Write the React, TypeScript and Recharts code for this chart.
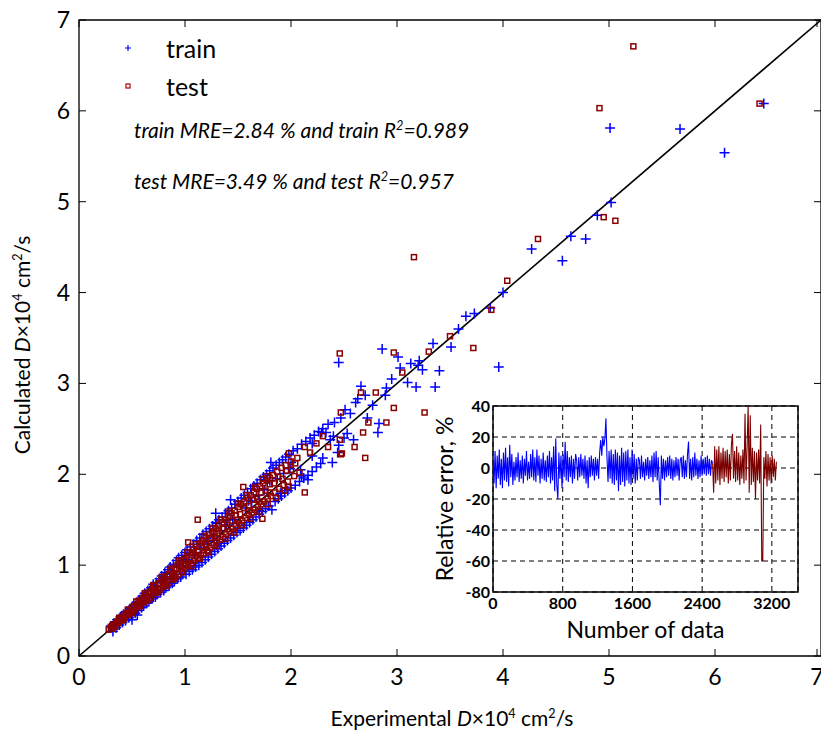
import React from 'react';
import {
  ScatterChart,
  Scatter,
  LineChart,
  Line,
  XAxis,
  YAxis,
  CartesianGrid,
  ReferenceLine,
  ReferenceArea,
  Legend
} from 'recharts';

const FONT = 'Lato, "Open Sans", sans-serif';

// plot box of the main chart, in page pixels
const PLOT = { left: 79, right: 821, top: 20, bottom: 656 };

const axisTicks = [0, 1, 2, 3, 4, 5, 6, 7];

const trainPoints: [number, number][] = [
  [0.3, 0.33], [0.32, 0.27], [0.33, 0.36], [0.35, 0.31], [0.36, 0.4], [0.38, 0.34], [0.39, 0.43], [0.41, 0.37],
  [0.42, 0.46], [0.44, 0.39], [0.45, 0.49], [0.47, 0.42], [0.48, 0.52], [0.5, 0.45], [0.51, 0.55], [0.53, 0.47],
  [0.54, 0.59], [0.56, 0.5], [0.57, 0.62], [0.59, 0.53], [0.6, 0.65], [0.55, 0.45], [0.5, 0.4],
  [0.61, 0.55], [0.62, 0.69], [0.64, 0.58], [0.65, 0.72], [0.66, 0.6], [0.68, 0.75], [0.69, 0.63], [0.7, 0.79],
  [0.72, 0.65], [0.73, 0.81], [0.74, 0.68], [0.76, 0.85], [0.77, 0.7], [0.78, 0.88], [0.8, 0.72], [0.81, 0.92],
  [0.82, 0.75], [0.84, 0.95], [0.85, 0.77], [0.86, 0.98], [0.88, 0.8], [0.89, 1.01], [0.9, 0.82], [0.92, 1.05],
  [0.93, 0.85], [0.94, 1.08], [0.96, 0.87], [0.97, 1.11], [0.98, 0.9], [1.0, 1.14],
  [0.63, 0.66], [0.71, 0.73], [0.79, 0.83], [0.87, 0.9], [0.95, 0.99],
  [1.01, 0.9], [1.02, 1.17], [1.04, 0.93], [1.05, 1.2], [1.07, 0.95], [1.08, 1.23], [1.1, 0.98], [1.11, 1.27],
  [1.13, 1.0], [1.14, 1.3], [1.16, 1.03], [1.17, 1.34], [1.19, 1.06], [1.2, 1.37], [1.22, 1.09], [1.23, 1.4],
  [1.25, 1.12], [1.26, 1.43], [1.28, 1.15], [1.29, 1.47], [1.31, 1.18], [1.32, 1.5], [1.34, 1.21], [1.35, 1.53],
  [1.37, 1.24], [1.38, 1.57], [1.4, 1.27], [1.41, 1.6], [1.43, 1.3], [1.44, 1.63], [1.46, 1.33], [1.47, 1.67],
  [1.49, 1.36], [1.5, 1.7], [1.03, 1.06], [1.09, 1.14], [1.15, 1.19], [1.21, 1.26], [1.27, 1.31], [1.33, 1.38],
  [1.39, 1.44], [1.45, 1.5], [1.29, 1.57], [1.43, 1.72], [1.3, 1.46],
  [1.52, 1.38], [1.53, 1.74], [1.55, 1.41], [1.56, 1.77], [1.58, 1.44], [1.59, 1.8], [1.61, 1.47], [1.62, 1.84],
  [1.64, 1.5], [1.65, 1.87], [1.67, 1.53], [1.68, 1.9], [1.7, 1.56], [1.71, 1.94], [1.73, 1.59], [1.74, 1.97],
  [1.76, 1.62], [1.77, 2.0], [1.79, 1.65], [1.8, 2.04], [1.82, 1.61], [1.83, 2.07], [1.85, 1.7], [1.86, 2.1],
  [1.88, 1.73], [1.89, 2.13], [1.91, 1.76], [1.92, 2.16], [1.94, 1.79], [1.95, 2.19], [1.97, 1.82], [1.98, 2.22],
  [2.0, 1.85], [1.57, 1.63], [1.63, 1.7], [1.69, 1.77], [1.75, 1.83], [1.81, 2.13], [1.87, 1.95], [1.93, 2.01],
  [1.99, 2.06],
  [0.4, 0.44], [0.5, 0.46], [0.6, 0.66], [0.7, 0.65], [0.8, 0.87], [0.9, 0.84], [1.0, 1.08], [1.1, 1.03],
  [1.2, 1.29], [1.3, 1.22], [1.4, 1.5], [1.5, 1.41], [1.6, 1.71], [1.7, 1.6], [1.8, 1.93], [1.9, 1.79],
  [2.0, 2.13], [2.1, 1.98], [2.2, 2.34], [2.3, 2.18],
  [2.02, 2.26], [2.04, 1.88], [2.06, 2.28], [2.08, 1.92], [2.1, 2.33], [2.12, 1.96], [2.14, 2.36], [2.16, 1.99],
  [2.18, 2.4], [2.2, 2.03], [2.22, 2.43], [2.24, 2.08], [2.26, 2.47], [2.28, 2.12], [2.3, 2.5], [2.33, 2.46],
  [2.35, 2.55], [2.37, 2.38], [2.39, 2.13], [2.41, 2.57], [2.44, 2.24], [2.45, 2.32], [2.47, 2.62], [2.5, 2.4],
  [2.51, 2.71], [2.53, 2.45], [2.56, 2.67], [2.59, 2.38], [2.61, 2.79], [2.63, 2.83], [2.09, 2.05], [2.16, 1.94],
  [2.2, 2.2], [2.4, 2.42], [2.29, 2.46],
  [2.66, 2.97], [2.7, 2.87], [2.72, 2.62], [2.77, 2.76], [2.82, 2.46], [2.83, 2.56], [2.86, 3.38], [2.89, 2.87],
  [2.95, 3.05], [3.01, 3.29], [3.03, 3.17], [3.1, 3.01], [3.13, 3.22], [3.18, 2.96], [3.21, 3.25], [3.24, 3.15],
  [3.34, 3.44], [3.36, 2.96], [3.4, 3.14], [3.51, 3.4], [2.45, 3.23], [2.9, 2.95], [3.2, 3.2],
  [3.58, 3.6], [3.65, 3.74], [3.73, 3.77], [3.88, 3.83], [3.96, 3.18], [4.0, 4.0], [4.27, 4.48], [4.56, 4.35],
  [4.64, 4.62], [4.78, 4.59], [4.89, 4.85], [5.02, 4.99], [5.01, 5.81], [5.67, 5.8], [6.09, 5.54], [6.46, 6.08]
];

const testPoints: [number, number][] = [
  [0.28, 0.29], [0.3, 0.32], [0.31, 0.3], [0.33, 0.35], [0.34, 0.33], [0.36, 0.38], [0.37, 0.36], [0.39, 0.41],
  [0.4, 0.39], [0.42, 0.44], [0.43, 0.42], [0.45, 0.47], [0.46, 0.45], [0.48, 0.51], [0.49, 0.48], [0.51, 0.54],
  [0.52, 0.5], [0.54, 0.57], [0.55, 0.53], [0.57, 0.61], [0.58, 0.56], [0.6, 0.64], [0.61, 0.59], [0.63, 0.67],
  [0.64, 0.61], [0.66, 0.7], [0.67, 0.64], [0.69, 0.74], [0.7, 0.67], [0.72, 0.77], [0.73, 0.7], [0.75, 0.8],
  [0.76, 0.73], [0.78, 0.84], [0.79, 0.76], [0.81, 0.87], [0.82, 0.79], [0.84, 0.9], [0.85, 0.81], [0.87, 0.94],
  [0.88, 0.84], [0.9, 0.97], [0.91, 0.87], [0.93, 1.0], [0.94, 0.9], [0.96, 1.04], [0.97, 0.93], [0.99, 1.07],
  [1.0, 0.96], [1.02, 1.1], [1.03, 0.99], [1.05, 1.14], [1.06, 1.02], [1.08, 1.17], [1.09, 1.05], [1.11, 1.2],
  [1.12, 1.08], [1.14, 1.24], [1.15, 1.11], [1.17, 1.27], [1.18, 1.13], [1.2, 1.3], [1.21, 1.16], [1.23, 1.34],
  [1.24, 1.19], [1.26, 1.37], [1.27, 1.22], [1.29, 1.4], [1.3, 1.25], [1.32, 1.44], [1.33, 1.28], [1.35, 1.47],
  [1.36, 1.31], [1.38, 1.5], [1.39, 1.34], [1.41, 1.54], [1.42, 1.37], [1.44, 1.57], [1.45, 1.4], [1.47, 1.6],
  [1.48, 1.43], [1.5, 1.64], [1.51, 1.46], [1.53, 1.67], [1.54, 1.49], [1.56, 1.7], [1.57, 1.52], [1.59, 1.74],
  [1.6, 1.55], [1.62, 1.77], [1.63, 1.58], [1.65, 1.8], [1.66, 1.61], [1.68, 1.84], [1.69, 1.64], [1.71, 1.87],
  [1.72, 1.67], [1.74, 1.9], [1.75, 1.7], [1.77, 1.93], [1.78, 1.73], [1.8, 1.96], [1.81, 1.76], [1.83, 1.99],
  [1.85, 1.8], [1.87, 2.03], [1.89, 1.84], [1.91, 2.07], [1.93, 1.88], [1.95, 2.1], [1.97, 1.92], [2.0, 2.14],
  [2.03, 1.98], [2.06, 2.18],
  [0.32, 0.34], [0.36, 0.37], [0.4, 0.41], [0.44, 0.46], [0.48, 0.49], [0.52, 0.55], [0.56, 0.57], [0.6, 0.63],
  [0.64, 0.65], [0.68, 0.71], [0.72, 0.73], [0.76, 0.8], [0.8, 0.82], [0.84, 0.88], [0.88, 0.9], [0.92, 0.96],
  [0.96, 0.98], [1.0, 1.05], [1.04, 1.06], [1.08, 1.13], [1.12, 1.15], [1.16, 1.21], [1.2, 1.23], [1.24, 1.3],
  [1.28, 1.31], [1.32, 1.38], [1.36, 1.4], [1.4, 1.47], [1.44, 1.49], [1.48, 1.55], [1.52, 1.56], [1.56, 1.63],
  [1.6, 1.65], [1.64, 1.72], [1.68, 1.73], [1.72, 1.8], [1.76, 1.82], [1.8, 1.89], [1.84, 1.9], [1.88, 1.97],
  [1.92, 1.95], [1.96, 2.04], [2.0, 2.05],
  [0.34, 0.32], [0.42, 0.4], [0.5, 0.47], [0.58, 0.55], [0.66, 0.62], [0.74, 0.7], [0.82, 0.77], [0.9, 0.85],
  [0.98, 0.92], [1.06, 0.99], [1.14, 1.07], [1.22, 1.14], [1.3, 1.21], [1.38, 1.29], [1.46, 1.36], [1.54, 1.44],
  [1.62, 1.51], [1.7, 1.59], [1.78, 1.67], [1.86, 1.74], [1.94, 1.82],
  [0.38, 0.42], [0.46, 0.51], [0.54, 0.6], [0.62, 0.69], [0.7, 0.78], [0.78, 0.87], [0.86, 0.96], [0.94, 1.05],
  [1.02, 1.14], [1.1, 1.23], [1.18, 1.32], [1.26, 1.41], [1.34, 1.5], [1.42, 1.59], [1.5, 1.68], [1.58, 1.77],
  [1.66, 1.86], [1.74, 1.95],
  [0.5, 0.5], [0.6, 0.6], [0.7, 0.7], [0.8, 0.8], [0.9, 0.9], [1.0, 1.0], [1.1, 1.1], [1.2, 1.2],
  [1.3, 1.3], [1.4, 1.4], [1.5, 1.5], [1.6, 1.6], [1.7, 1.7], [1.8, 1.8],
  [1.03, 1.25], [1.12, 1.5], [1.55, 1.86], [1.73, 1.51], [1.78, 1.98], [1.97, 1.86], [1.98, 2.23], [2.04, 2.12],
  [2.08, 2.02], [2.13, 2.3], [2.13, 1.8], [2.18, 2.24], [2.24, 2.34], [2.3, 2.42], [2.35, 2.3], [2.46, 2.38],
  [2.47, 2.22], [2.47, 2.68], [2.48, 2.23], [2.46, 3.33], [2.6, 2.3], [2.66, 2.9], [2.68, 2.46], [2.7, 2.18],
  [2.73, 2.57], [2.8, 2.9], [2.9, 2.57], [2.97, 2.73], [2.97, 3.34], [3.05, 3.12], [3.26, 2.68], [3.3, 3.35],
  [3.5, 3.52], [3.72, 3.39], [3.16, 4.39], [3.89, 3.81], [4.04, 4.13], [4.33, 4.59], [4.91, 6.03], [4.95, 4.83],
  [5.06, 4.79], [5.23, 6.71], [6.42, 6.08]
];

const parityLine = [{ x: 0, y: 0 }, { x: 7, y: 7 }];

// inset: relative error (%) against data number
const insetTicksX = [0, 800, 1600, 2400, 3200];
const insetTicksY = [-80, -60, -40, -20, 0, 20, 40];
const errorStep = 12;
const trainErrorStart = 0;
const testErrorStart = 2520;

const trainError = [
  4, -10, 11, -13, 8, -7, 12, -11, 6, -13, 10, -8, 13, -9, 7, -12, 15, -6, 9, -11,
  4, -8, 7, -6, 10, -9, 5, -7, 8, -10, 6, -5, 11, -8, 4, -7, 9, -6, 12, -8,
  7, -9, 12, -5, 8, -10, 6, -7, 10, -8, 5, -9, 8, -6, 11, -10, 7, -8, 14, -15,
  19, -11, -20, 10, -7, 8, -13, 9, -6, 17, -8, 11, -9, 7, -6, 8, -10, 6, -7, 9,
  5, -8, 7, -6, 9, -5, 6, -7, 8, -10, 5, -13, 7, -6, 8, -5, 6, -8, 7, -5,
  6, -7, 10, 18, 8, 20, 14, 19, 32, 7, -9, 11, -7, 12, -10, 9, -11, 12, -8, 10,
  -15, 8, -11, 13, -9, 10, -12, 11, -8, 12, -10, 7, -11, 12, -7, 9, -10, 6, -8, 7,
  5, -7, 8, -6, 4, -8, 6, -5, 7, -7, 5, -6, 8, -9, 10, -6, 11, -8, 7, -10,
  -24, 8, -7, 6, -8, 5, -6, 7, -5, 8, -7, 6, -8, 5, -6, 7, -5, 6, -8, 5,
  7, -6, 8, -7, 5, -6, 9, 17, -7, 6, -8, 7, -6, 10, -5, 6, -7, 5, -6, 8,
  -5, 6, -4, 7, -5, 8, -4, 6, -5, 5, 3
];

const testError = [
  3, -16, 14, -10, 12, -8, 14, -11, 10, -7, 13, -9, 11, -6, 12, -10, 9, -8, 15, 22,
  -7, 11, -9, 14, -8, 10, -11, 8, -7, 12, -10, 35, -8, 14, 40, -16, 34, -11, 13, -9,
  11, -20, 10, -8, 12, -10, 28, -60, -60, 7, -7, 11, -12, 9, -8, 7, -10, 8, -6, 6,
  -8, 4
];

const errorRows = [
  ...trainError.map((v, i) => ({ n: trainErrorStart + i * errorStep, train: v })),
  ...testError.map((v, i) => ({ n: testErrorStart + i * errorStep, test: v }))
];

const PlusMark = (p: any) => (
  <path
    d={`M${p.cx - 5},${p.cy}h10M${p.cx},${p.cy - 5}v10`}
    stroke="#0000ff"
    strokeWidth={1.5}
    fill="none"
  />
);

const SquareMark = (p: any) => (
  <rect x={p.cx - 2.5} y={p.cy - 2.5} width={5} height={5} fill="none" stroke="#8b0000" strokeWidth={1.5} />
);

const XTick = (p: any) => {
  const { x, payload } = p;
  return (
    <g>
      <line x1={x} x2={x} y1={PLOT.bottom} y2={PLOT.bottom - 7} stroke="#000" />
      <line x1={x} x2={x} y1={PLOT.top} y2={PLOT.top + 7} stroke="#000" />
      <text x={x} y={PLOT.bottom + 29} textAnchor="middle" fontSize={23} fontFamily={FONT} fill="#000">
        {payload.value}
      </text>
    </g>
  );
};

const YTick = (p: any) => {
  const { y, payload } = p;
  return (
    <g>
      <line x1={PLOT.left} x2={PLOT.left + 7} y1={y} y2={y} stroke="#000" />
      <line x1={PLOT.right} x2={PLOT.right - 7} y1={y} y2={y} stroke="#000" />
      <text x={PLOT.left - 9} y={y + 8} textAnchor="end" fontSize={23} fontFamily={FONT} fill="#000">
        {payload.value}
      </text>
    </g>
  );
};

const legendOrder = ['train', 'test'];

const LegendBox = ({ payload }: any) => {
  const items = [...(payload || [])].sort(
    (a: any, b: any) => legendOrder.indexOf(a.value) - legendOrder.indexOf(b.value)
  );
  return (
    <div style={{ fontFamily: FONT, color: '#000' }}>
      {items.map((entry: any) => (
        <div key={entry.value} style={{ display: 'flex', alignItems: 'center', height: 38 }}>
          <svg width={12} height={12}>
            {entry.value === 'train' ? (
              <path d="M3,6h6M6,3v6" stroke="#0000ff" strokeWidth={1.2} />
            ) : (
              <rect x={4} y={4} width={4} height={4} fill="none" stroke="#b00000" strokeWidth={1.2} />
            )}
          </svg>
          <span style={{ marginLeft: 32, fontSize: 25 }}>{entry.value}</span>
        </div>
      ))}
    </div>
  );
};

const noteStyle: React.CSSProperties = {
  position: 'absolute',
  left: 134,
  fontFamily: FONT,
  fontStyle: 'italic',
  fontSize: 21,
  lineHeight: '24px',
  whiteSpace: 'nowrap',
  color: '#000'
};

const sup: React.CSSProperties = { fontSize: '0.6em', verticalAlign: '0.6em', lineHeight: 0 };

const titleStyle: React.CSSProperties = {
  position: 'absolute',
  fontFamily: FONT,
  fontSize: 21,
  lineHeight: '24px',
  whiteSpace: 'nowrap',
  color: '#000'
};

export default function App() {
  return (
    <div style={{ position: 'absolute', left: 0, top: 0, width: 821, height: 731, background: '#fff' }}>
      <ScatterChart width={821} height={731} margin={{ top: PLOT.top, right: 0, bottom: 0, left: 0 }}>
        <XAxis
          type="number"
          dataKey="x"
          domain={[0, 7]}
          ticks={axisTicks}
          tick={<XTick />}
          tickLine={false}
          tickSize={0}
          axisLine={false}
          height={731 - PLOT.bottom}
          allowDataOverflow
        />
        <YAxis
          type="number"
          dataKey="y"
          domain={[0, 7]}
          ticks={axisTicks}
          tick={<YTick />}
          tickLine={false}
          tickSize={0}
          axisLine={false}
          width={PLOT.left}
          allowDataOverflow
        />
        <ReferenceArea x1={0} x2={7} y1={0} y2={7} fill="none" stroke="#000" strokeWidth={1.3} />
        <Legend
          layout="vertical"
          align="center"
          verticalAlign="middle"
          content={<LegendBox />}
          wrapperStyle={{ left: 122, top: 29, width: 140 }}
        />
        <Scatter
          name="train"
          data={trainPoints.map(([x, y]) => ({ x, y }))}
          fill="#0000ff"
          shape={PlusMark}
          isAnimationActive={false}
        />
        <Scatter
          name="test"
          data={testPoints.map(([x, y]) => ({ x, y }))}
          fill="#b00000"
          shape={SquareMark}
          isAnimationActive={false}
        />
        <ReferenceLine segment={parityLine} stroke="#000" strokeWidth={1.6} ifOverflow="visible" />
      </ScatterChart>

      <div style={{ ...noteStyle, top: 118 }}>
        train MRE=2.84 % and train R<span style={sup}>2</span>=0.989
      </div>
      <div style={{ ...noteStyle, top: 169 }}>
        test MRE=3.49 % and test R<span style={sup}>2</span>=0.957
      </div>

      <div style={{ ...titleStyle, left: 452, top: 718, transform: 'translate(-50%, -50%)' }}>
        Experimental <i>D</i>×10<span style={sup}>4</span> cm<span style={sup}>2</span>/s
      </div>
      <div style={{ ...titleStyle, left: 22, top: 345, transform: 'translate(-50%, -50%) rotate(-90deg)' }}>
        Calculated <i>D</i>×10<span style={sup}>4</span> cm<span style={sup}>2</span>/s
      </div>

      <div style={{ position: 'absolute', left: 430, top: 395 }}>
        <LineChart width={375} height={250} data={errorRows} margin={{ top: 11, right: 7, bottom: 0, left: 0 }}>
          <CartesianGrid stroke="#000" strokeDasharray="5 4" />
          <XAxis
            type="number"
            dataKey="n"
            domain={[0, 3500]}
            ticks={insetTicksX}
            tickLine={false}
            axisLine={false}
            tickSize={0}
            tickMargin={6}
            height={53}
            tick={{ fontSize: 16, fontWeight: 'bold', fill: '#000', fontFamily: FONT }}
            label={{ value: 'Number of data', position: 'insideBottom', offset: 7, fontSize: 23, fill: '#000', fontFamily: FONT }}
            allowDataOverflow
          />
          <YAxis
            type="number"
            domain={[-80, 40]}
            ticks={insetTicksY}
            tickLine={false}
            axisLine={false}
            tickSize={0}
            tickMargin={3}
            width={63}
            tick={{ fontSize: 16, fontWeight: 'bold', fill: '#000', fontFamily: FONT }}
            label={{
              value: 'Relative error, %',
              angle: -90,
              position: 'insideLeft',
              offset: 15,
              fontSize: 23,
              fill: '#000',
              fontFamily: FONT,
              style: { textAnchor: 'middle' }
            }}
            allowDataOverflow
          />
          <Line dataKey="train" stroke="#0000ff" strokeWidth={1.1} dot={false} isAnimationActive={false} />
          <Line dataKey="test" stroke="#7a0000" strokeWidth={1.1} dot={false} isAnimationActive={false} />
          <ReferenceArea x1={0} x2={3500} y1={-80} y2={40} fill="none" stroke="#000" strokeWidth={1.5} />
        </LineChart>
      </div>
    </div>
  );
}
